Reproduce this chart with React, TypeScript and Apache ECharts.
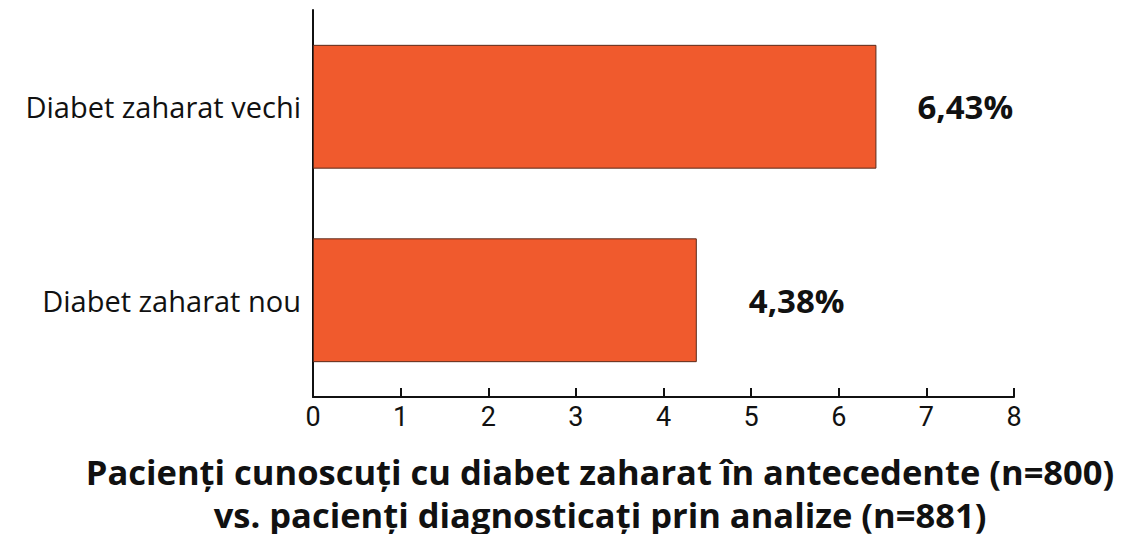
import React, { useEffect, useRef } from "react";
import * as echarts from "echarts";

const categories = ["Diabet zaharat nou", "Diabet zaharat vechi"];
const values = [4.38, 6.43];
const valueLabels = ["4,38%", "6,43%"];
const xTicks = [0, 1, 2, 3, 4, 5, 6, 7, 8];
const titleLines = [
  "Pacienți cunoscuți cu diabet zaharat în antecedente (n=800)",
  "vs. pacienți diagnosticați prin analize (n=881)",
];

export default function App() {
  const ref = useRef<HTMLDivElement>(null);
  useEffect(() => {
    if (!ref.current) return;
    const chart = echarts.init(ref.current, null, { renderer: "svg" });
    const labelDistances = [52, 41];
    const titleY = [471, 514];
    chart.setOption({
      animation: false,
      backgroundColor: "#ffffff",
      grid: { left: 313, right: 110, top: 10, bottom: 145, containLabel: false },
      graphic: titleLines.map((t, i) => ({
        type: "text",
        x: 600,
        y: titleY[i],
        style: {
          text: t,
          x: 0,
          y: 0,
          align: "center",
          verticalAlign: "middle",
          fontFamily: "Open Sans",
          fontWeight: "bold",
          fontSize: 34.5,
          lineHeight: 43,
          fill: "#111",
        },
      })),
      xAxis: {
        type: "value",
        min: xTicks[0],
        max: xTicks[xTicks.length - 1],
        interval: 1,
        splitLine: { show: false },
        axisLine: { show: true, lineStyle: { color: "#111", width: 2 } },
        axisTick: { show: true, inside: true, length: 9, lineStyle: { color: "#111", width: 2 } },
        axisLabel: {
          fontFamily: "Roboto",
          fontSize: 27,
          color: "#111",
          margin: 6,
        },
      },
      yAxis: {
        type: "category",
        data: categories,
        axisLine: { show: true, lineStyle: { color: "#111", width: 2 } },
        axisTick: { show: false },
        axisLabel: {
          fontFamily: "Open Sans",
          fontSize: 29,
          color: "#111",
          margin: 12,
        },
      },
      series: [
        {
          type: "bar",
          data: values.map((v, i) => ({ value: v, label: { distance: labelDistances[i] } })),
          barWidth: "64%",
          itemStyle: { color: "#F05A2D", borderColor: "#5a2a1a", borderWidth: 1 },
          label: {
            show: true,
            position: "right",
            formatter: (p: any) => valueLabels[p.dataIndex],
            fontFamily: "Open Sans",
            fontWeight: "bold",
            fontSize: 33,
            color: "#111",
          },
        },
      ],
    });
    return () => chart.dispose();
  }, []);
  return <div ref={ref} style={{ width: 1124, height: 542, margin: -8 }} />;
}
